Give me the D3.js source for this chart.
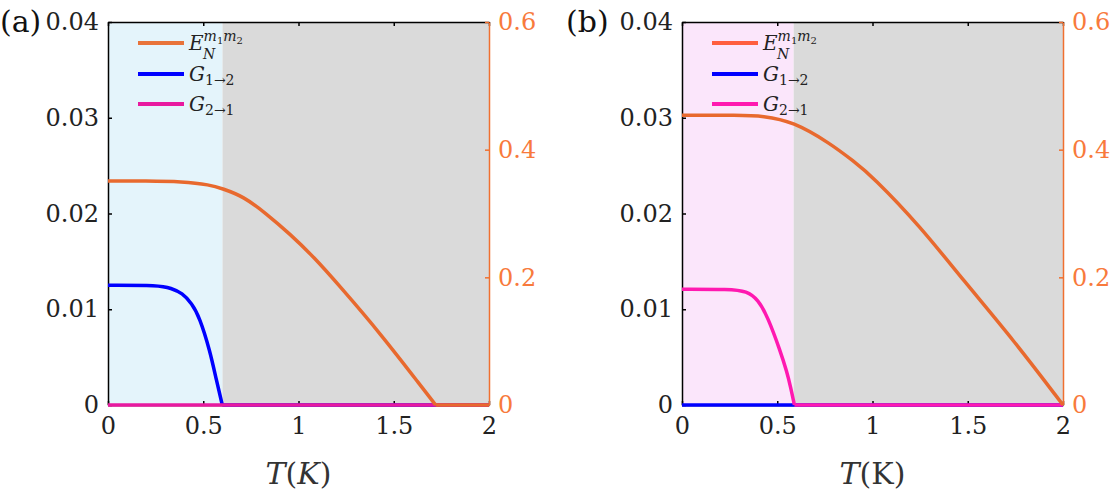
<!DOCTYPE html>
<html>
<head>
<meta charset="utf-8">
<script src="https://cdn.jsdelivr.net/npm/d3@7"></script>
<style>
  body { margin: 0; background: #fff; }
  svg text { font-family: "DejaVu Serif", serif; }
</style>
</head>
<body>
<script>
// tick values
var xTicks = [0, 0.5, 1, 1.5, 2];
var leftTicks = [0, 0.01, 0.02, 0.03, 0.04];
var rightTicks = [0, 0.2, 0.4, 0.6];

// panel (a) data
var aShadeEnd = 0.6;
var aEnT = [0, 0.2, 0.39, 0.535, 0.6, 0.71, 0.83, 0.955, 1.08, 1.22, 1.43, 1.65, 1.72, 2.0];
var aEnV = [0.351, 0.351, 0.350, 0.345, 0.339, 0.327, 0.300, 0.268, 0.232, 0.185, 0.112, 0.027, 0, 0];
var aG12T = [0, 0.27, 0.33, 0.39, 0.44, 0.48, 0.535, 0.57, 0.6, 2.0];
var aG12V = [0.0125, 0.0125, 0.0122, 0.0117, 0.0106, 0.0092, 0.0057, 0.0025, 0, 0];
var aG21T = [0, 2.0];
var aG21V = [0, 0];

// panel (b) data
var bShadeEnd = 0.585;
var bEnT = [0, 0.3, 0.425, 0.583, 0.777, 0.9, 1.0, 1.25, 1.475, 1.74, 2.0];
var bEnV = [0.454, 0.454, 0.453, 0.444, 0.410, 0.382, 0.358, 0.280, 0.196, 0.102, 0];
var bG12T = [0, 2.0];
var bG12V = [0, 0];
var bG21T = [0, 0.25, 0.34, 0.40, 0.45, 0.515, 0.55, 0.57, 0.59, 2.0];
var bG21V = [0.0121, 0.0121, 0.0119, 0.0110, 0.0092, 0.0057, 0.0035, 0.0019, 0, 0];

var W = 1112, H = 492;
var pw = 381, ph = 383;

var svg = d3.select("body").append("svg")
    .attr("width", W)
    .attr("height", H);

function zip(t, v) {
    return t.map(function(d, i) { return {t: d, v: v[i]}; });
}

function fmt(d) { return d === 0 ? "0" : String(d); }

// smooth part up to the first zero, straight zero tail after it
function drawSeries(g, pts, line, color) {
    var k = pts.findIndex(function(d) { return d.v === 0; });
    if (k < 0) k = pts.length - 1;
    var head = pts.slice(0, k + 1), tail = pts.slice(k);
    var lin = d3.line().x(line.x()).y(line.y());
    g.append("path").datum(tail)
        .attr("fill", "none").attr("stroke", color).attr("stroke-width", 3.5)
        .attr("d", lin);
    if (head.length > 1) {
        g.append("path").datum(head)
            .attr("fill", "none").attr("stroke", color).attr("stroke-width", 3.5)
            .attr("stroke-linejoin", "round")
            .attr("d", line);
    }
}

function drawPanel(cfg) {
    var g = svg.append("g")
        .attr("transform", "translate(" + cfg.left + "," + 22 + ")");

    var x = d3.scaleLinear().domain([0, 2]).range([0, pw]);
    var yL = d3.scaleLinear().domain([0, 0.04]).range([ph, 0]);
    var yR = d3.scaleLinear().domain([0, 0.6]).range([ph, 0]);

    // background regions
    g.append("rect")
        .attr("x", x(cfg.shadeEnd)).attr("y", 0)
        .attr("width", x(2) - x(cfg.shadeEnd)).attr("height", ph)
        .attr("fill", "#dadada");
    g.append("rect")
        .attr("x", 0).attr("y", 0)
        .attr("width", x(cfg.shadeEnd)).attr("height", ph)
        .attr("fill", cfg.shadeColor);

    // axes
    var xAxis = g.append("g")
        .attr("transform", "translate(0," + ph + ")")
        .call(d3.axisBottom(x).tickValues(xTicks).tickFormat(fmt)
            .tickSize(-4).tickSizeOuter(0).tickPadding(12));
    g.append("g")
        .call(d3.axisTop(x).tickValues(xTicks).tickFormat("")
            .tickSize(-4).tickSizeOuter(0))
        .selectAll("path, line").attr("stroke", "#000").attr("stroke-width", 1.5);
    var yAxis = g.append("g")
        .call(d3.axisLeft(yL).tickValues(leftTicks).tickFormat(fmt)
            .tickSize(-4).tickSizeOuter(0).tickPadding(9));
    var rAxis = g.append("g")
        .attr("transform", "translate(" + pw + ",0)")
        .call(d3.axisRight(yR).tickValues(rightTicks).tickFormat(fmt)
            .tickSize(-4).tickSizeOuter(0).tickPadding(9));

    g.selectAll("g").attr("font-family", null);
    [xAxis, yAxis].forEach(function(a) {
        a.selectAll("path, line").attr("stroke", "#000").attr("stroke-width", 1.5);
        a.selectAll("text").attr("fill", "#222").style("font-size", "24px");
    });
    rAxis.selectAll("path, line").attr("stroke", "#f07030").attr("stroke-width", 1.5);
    rAxis.selectAll("text").attr("fill", "#f87a3c").style("font-size", "24px");

    // data lines
    var lineL = d3.line()
        .x(function(d) { return x(d.t); })
        .y(function(d) { return yL(d.v); })
        .curve(d3.curveBasis);
    var lineR = d3.line()
        .x(function(d) { return x(d.t); })
        .y(function(d) { return yR(d.v); })
        .curve(d3.curveBasis);

    drawSeries(g, zip(cfg.g12T, cfg.g12V), lineL, "#0000ff");
    drawSeries(g, zip(cfg.g21T, cfg.g21V), lineL, cfg.pink);
    drawSeries(g, zip(cfg.enT, cfg.enV), lineR, "#e8692e");

    // legend
    var leg = [
        {c: cfg.legOrange, y: 21},
        {c: "#0000ff", y: 52},
        {c: cfg.pink, y: 82}
    ];
    g.selectAll(".leg").data(leg).enter().append("line")
        .attr("x1", 30).attr("x2", 76)
        .attr("y1", function(d) { return d.y; })
        .attr("y2", function(d) { return d.y; })
        .attr("stroke", function(d) { return d.c; })
        .attr("stroke-width", 4);

    var t1 = g.append("text").attr("x", 81).attr("y", 28)
        .attr("fill", "#222").style("font-size", "20px");
    t1.append("tspan").style("font-style", "italic").text("E");
    t1.append("tspan").attr("dy", -9).style("font-style", "italic").style("font-size", "14px").text("m");
    t1.append("tspan").attr("dy", 3).style("font-size", "10px").text("1");
    t1.append("tspan").attr("dy", -3).style("font-style", "italic").style("font-size", "14px").text("m");
    t1.append("tspan").attr("dy", 3).style("font-size", "10px").text("2");
    t1.append("tspan").attr("x", 95).attr("y", 37).style("font-style", "italic").style("font-size", "14px").text("N");

    [{y: 59, s: "1\u21922"}, {y: 89, s: "2\u21921"}].forEach(function(d) {
        var t = g.append("text").attr("x", 81).attr("y", d.y)
            .attr("fill", "#222").style("font-size", "20px");
        t.append("tspan").style("font-style", "italic").text("G");
        t.append("tspan").attr("dy", 4).style("font-size", "14px").text(d.s);
    });

    // panel label and axis title
    svg.append("text")
        .attr("x", cfg.labX).attr("y", 32)
        .attr("fill", "#111").style("font-size", "30px")
        .text(cfg.label);

    var xt = g.append("text")
        .attr("x", pw / 2).attr("y", ph + 79)
        .attr("text-anchor", "middle")
        .attr("fill", "#333").style("font-size", "30px");
    xt.append("tspan").style("font-style", "italic").text("T");
    xt.append("tspan").text("(");
    xt.append("tspan").style("font-style", cfg.kItalic ? "italic" : "normal").text("K");
    xt.append("tspan").text(")");
}

drawPanel({
    left: 108, label: "(a)", labX: 0, shadeEnd: aShadeEnd, shadeColor: "#e4f4fb",
    pink: "#e8199f", legOrange: "#e8733a", kItalic: true,
    enT: aEnT, enV: aEnV, g12T: aG12T, g12V: aG12V, g21T: aG21T, g21V: aG21V
});
drawPanel({
    left: 682, label: "(b)", labX: 566, shadeEnd: bShadeEnd, shadeColor: "#fbe6fb",
    pink: "#ff19b0", legOrange: "#ff5f3f", kItalic: false,
    enT: bEnT, enV: bEnV, g12T: bG12T, g12V: bG12V, g21T: bG21T, g21V: bG21V
});
</script>
</body>
</html>
